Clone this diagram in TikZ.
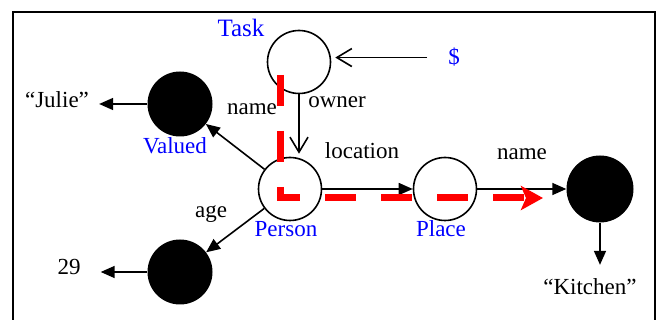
\documentclass[tikz,border=0pt]{standalone}
\usepackage{fontspec}
\setmainfont{Liberation Serif}
\usetikzlibrary{arrows.meta}
\begin{document}
\begin{tikzpicture}[x=1pt,y=-1pt,
  every node/.style={font=\rmfamily\fontsize{23}{27}\selectfont, inner sep=0pt},
  hollow/.style={circle,draw,line width=1.6pt,minimum size=63pt},
  filledc/.style={circle,fill=black,minimum size=65pt},
  lbl/.style={anchor=base},
  blbl/.style={anchor=base,text=blue},
  farrow/.style={line width=1.6pt,-{Triangle[length=14pt,width=12pt]}},
  oarrow/.style={line width=1.6pt,-{Straight Barb[length=15pt,width=18pt,line width=1.6pt]}},
  redpath/.style={red,line width=7pt,dash pattern=on 31pt off 25pt,-{Stealth[length=22pt,width=24pt,inset=5pt]}}
]
\clip (0,0) rectangle (657,320);
\draw[line width=1.6pt] (13,12) rectangle (655,340);

% nodes
\node[hollow] (task) at (299,62) {};
\node[hollow] (person) at (290,189) {};
\node[hollow] (place) at (445,189) {};
\node[filledc] (valued) at (180,104) {};
\node[filledc] (age) at (180,272) {};
\node[filledc, minimum size=67pt] (kitchen) at (600,189) {};

% labels
\node[blbl, font=\rmfamily\fontsize{25}{29}\selectfont] (tasklbl) at (241,37) {Task};
\node[blbl] (dollar) at (454,65) {\$};
\node[lbl] (julie) at (57,108) {“Julie”};
\node[lbl] (n29) at (69,275) {29};
\node[lbl] (kitchenlbl) at (590,295) {“Kitchen”};
\node[lbl] (lname) at (252,115) {name};
\node[blbl] (valuedlbl) at (175,154) {Valued};
\node[lbl] (lowner) at (337,108) {owner};
\node[lbl] (llocation) at (362,159) {location};
\node[lbl] (lname2) at (522,160) {name};
\node[lbl] (lage) at (211,218) {age};
\node[blbl] (personlbl) at (286,237) {Person};
\node[blbl] (placelbl) at (441,237) {Place};

% connectors
\draw[oarrow, shorten <=21pt, shorten >=4pt] (dollar.west) -- (dollar.west -| task.east);
\draw[oarrow, shorten >=3pt] (task.south) -- (task.south |- person.north);
\draw[farrow] (person) -- (valued);
\draw[farrow] (person) -- (age);
\draw[farrow, shorten >=10pt] (valued.west) -- (valued.west -| julie.east);
\draw[farrow, shorten >=20pt] (age.west) -- (age.west -| n29.east);
\draw[farrow] (person.east) -- (place.west);
\draw[farrow] (place.east) -- (kitchen.west);
\draw[farrow, shorten >=14pt] (kitchen.south) -- (kitchen.south |- kitchenlbl.north);

% red query path
\coordinate (rstart) at (280,75);
\coordinate (rend) at (543,198);
\draw[redpath] (rstart) -- (rstart |- rend) -- (rend);
\end{tikzpicture}
\end{document}
